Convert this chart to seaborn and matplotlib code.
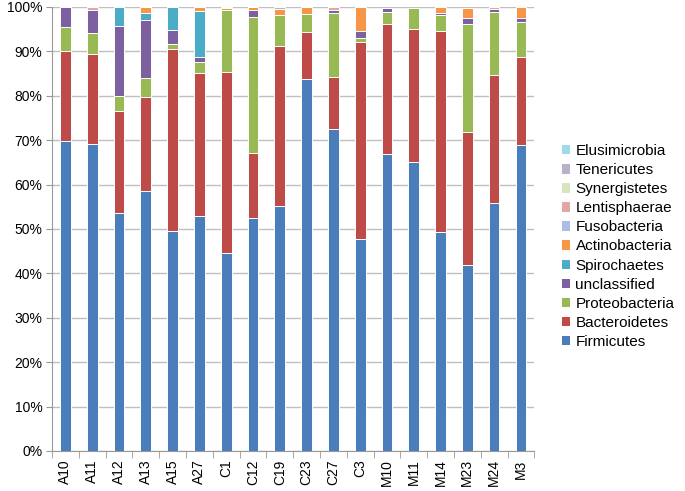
import numpy as np
import pandas as pd
import seaborn as sns
import matplotlib.pyplot as plt
from matplotlib.patches import Patch

plt.rcParams['font.family'] = ['Liberation Sans', 'DejaVu Sans']

samples = ["A10", "A11", "A12", "A13", "A15", "A27", "C1", "C12", "C19",
           "C23", "C27", "C3", "M10", "M11", "M14", "M23", "M24", "M3"]

# relative abundance (%) per phylum, bottom to top of the stack
firmicutes     = [69.8, 69.2, 53.5, 58.6, 49.5, 53.0, 44.5, 52.5, 55.2, 83.7, 72.6, 47.7, 66.8, 65.1, 49.3, 41.8, 55.9, 68.8]
bacteroidetes  = [20.2, 20.1, 23.1, 21.0, 41.1, 32.2, 40.8, 14.7, 36.0, 10.7, 11.6, 44.5, 29.4, 29.9, 45.3, 30.0, 28.8, 19.9]
proteobacteria = [5.4, 4.9, 3.3, 4.4, 1.0, 2.3, 13.9, 30.6, 7.0, 3.9, 14.4, 0.8, 2.7, 4.8, 3.5, 24.4, 14.2, 7.9]
unclassified   = [4.6, 5.2, 15.8, 13.0, 3.2, 1.3, 0.0, 1.5, 0.0, 0.0, 0.7, 1.5, 0.8, 0.0, 0.6, 1.3, 0.6, 0.8]
spirochaetes   = [0.0, 0.0, 4.3, 1.7, 5.2, 10.2, 0.0, 0.0, 0.0, 0.0, 0.0, 0.0, 0.0, 0.0, 0.0, 0.0, 0.0, 0.0]
actinobacteria = [0.0, 0.0, 0.0, 1.3, 0.0, 1.0, 0.5, 0.7, 1.4, 1.7, 0.0, 5.5, 0.0, 0.0, 1.3, 2.3, 0.0, 2.6]
fusobacteria   = [0.0] * 18
lentisphaerae  = [0.0, 0.6, 0.0, 0.0, 0.0, 0.0, 0.0, 0.0, 0.0, 0.0, 0.7, 0.0, 0.0, 0.0, 0.0, 0.0, 0.5, 0.0]
synergistetes  = [0.0, 0.0, 0.0, 0.0, 0.0, 0.0, 0.3, 0.0, 0.0, 0.0, 0.0, 0.0, 0.0, 0.0, 0.0, 0.0, 0.0, 0.0]
tenericutes    = [0.0, 0.0, 0.0, 0.0, 0.0, 0.0, 0.0, 0.0, 0.4, 0.0, 0.0, 0.0, 0.0, 0.0, 0.0, 0.0, 0.0, 0.0]
elusimicrobia  = [0.0] * 18

phyla = ["Firmicutes", "Bacteroidetes", "Proteobacteria", "unclassified", "Spirochaetes",
         "Actinobacteria", "Fusobacteria", "Lentisphaerae", "Synergistetes", "Tenericutes",
         "Elusimicrobia"]
values = [firmicutes, bacteroidetes, proteobacteria, unclassified, spirochaetes,
          actinobacteria, fusobacteria, lentisphaerae, synergistetes, tenericutes,
          elusimicrobia]
colors = ["#4A7EBB", "#BE4B48", "#98B954", "#7D60A0", "#4BACC6", "#F79646",
          "#A9BEE4", "#E6A5A5", "#D7E4BD", "#B9B1C9", "#9FDAEA"]

df = pd.DataFrame(dict(zip(phyla, values)), index=samples)
cum = df.cumsum(axis=1)

fig = plt.figure(figsize=(6.85, 4.91), dpi=100)
ax = fig.add_axes([0.076, 0.0815, 0.704, 0.9045])

# stacked bars: draw cumulative totals from the top layer down
for name, col in reversed(list(zip(phyla, colors))):
    sns.barplot(x=samples, y=cum[name].values, color=col, saturation=1, width=0.4,
                edgecolor="white", linewidth=0.7, ax=ax, zorder=3)

ax.set_ylim(0, 100)
ax.set_xlim(-0.5, len(samples) - 0.5)
ax.set_yticks(np.arange(0, 101, 10))
ax.set_yticklabels([f"{v}%" for v in range(0, 101, 10)], fontsize=10)
ax.yaxis.grid(True, color="#bfbfbf", linewidth=1, zorder=0)
ax.set_axisbelow(True)
ax.tick_params(axis="y", length=4, color="#999999", pad=3)
ax.tick_params(axis="x", which="major", length=0, labelrotation=90, labelsize=10, pad=6)
ax.set_xticks(np.arange(-0.5, len(samples)), minor=True)
ax.tick_params(axis="x", which="minor", length=5, color="#999999")
for s in ["top", "right"]:
    ax.spines[s].set_visible(False)
for s in ["left", "bottom"]:
    ax.spines[s].set_color("#999999")
ax.set_xlabel("")
ax.set_ylabel("")

handles = [Patch(facecolor=c, edgecolor="none") for c in colors]
leg = fig.legend(handles[::-1], phyla[::-1], loc="center left",
                 bbox_to_anchor=(0.8, 0.498), frameon=False, fontsize=11,
                 handlelength=0.55, handleheight=0.55, handletextpad=0.35,
                 labelspacing=0.33)

fig.savefig("out.png", dpi=100)
